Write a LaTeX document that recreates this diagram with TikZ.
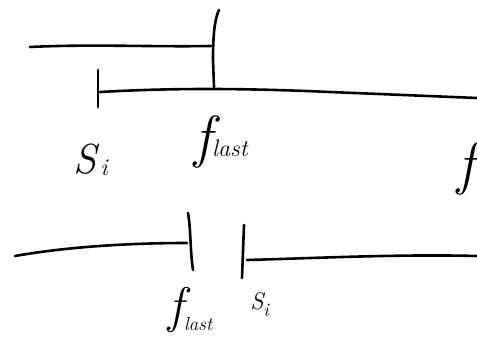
\documentclass[tikz,border=0pt]{standalone}
\usepackage{fontspec}
\begin{document}
\begin{tikzpicture}[x=1pt,y=-1pt,
    pen/.style={line width=2.6pt,line cap=round,line join=round,black},
    big/.style={inner sep=0pt,font=\fontsize{58}{60}\selectfont\itshape},
    bigish/.style={inner sep=0pt,font=\fontsize{50}{52}\selectfont\itshape},
    mid/.style={inner sep=0pt,font=\fontsize{42}{44}\selectfont\itshape},
    small/.style={inner sep=0pt,font=\fontsize{24}{26}\selectfont\itshape},
    tiny/.style={inner sep=0pt,font=\fontsize{19}{21}\selectfont\itshape}]
  \useasboundingbox (0,0) rectangle (477,343);

  % --- upper sketch: interval ending at f_last, interval from s_i to f ---
  \coordinate (a0) at (30,47);
  \coordinate (a1) at (211,46);
  \coordinate (t1top) at (219,10);
  \coordinate (t1bot) at (214,87);
  \coordinate (t2top) at (98,70);
  \coordinate (t2bot) at (98,107);
  \coordinate (b0) at (100,92);
  \coordinate (b1) at (477,98);

  \draw[pen] (a0) .. controls (90,44) and (150,47) .. (a1);
  \draw[pen] (t1top) .. controls (214,20) and (213,40) .. (213,60) -- (t1bot);
  \draw[pen] (t2top) -- (t2bot);
  \draw[pen] (b0) .. controls (170,88) and (240,88) .. (330,92) -- (b1);

  \node[mid,anchor=base] (si1) at (85,173) {S};
  \node[small,anchor=base] (si1i) at (104,175) {i};
  \node[big,anchor=base] (fl1) at (203,156) {f};
  \node[small,anchor=base west] (fl1l) at (212,156) {last};
  \node[big,anchor=base] (f1) at (466,183) {f};

  % --- lower sketch: f_last followed by s_i, with a gap ---
  \coordinate (c0) at (15,256);
  \coordinate (c1) at (187,243);
  \coordinate (t3top) at (188,213);
  \coordinate (t3bot) at (193,270);
  \coordinate (t4top) at (244,225);
  \coordinate (t4bot) at (242,278);
  \coordinate (d0) at (247,260);
  \coordinate (d1) at (477,256);

  \draw[pen] (c0) .. controls (60,248) and (120,243) .. (c1);
  \draw[pen] (t3top) .. controls (191,230) and (190,250) .. (t3bot);
  \draw[pen] (t4top) -- (t4bot);
  \draw[pen] (d0) .. controls (320,258) and (400,254) .. (d1);

  \node[bigish,anchor=base] (fl2) at (176,322) {f};
  \node[tiny,anchor=base west] (fl2l) at (184,330) {last};
  \node[small,anchor=base] (si2) at (257,309) {S};
  \node[tiny,anchor=base] (si2i) at (266,316) {i};
\end{tikzpicture}
\end{document}
